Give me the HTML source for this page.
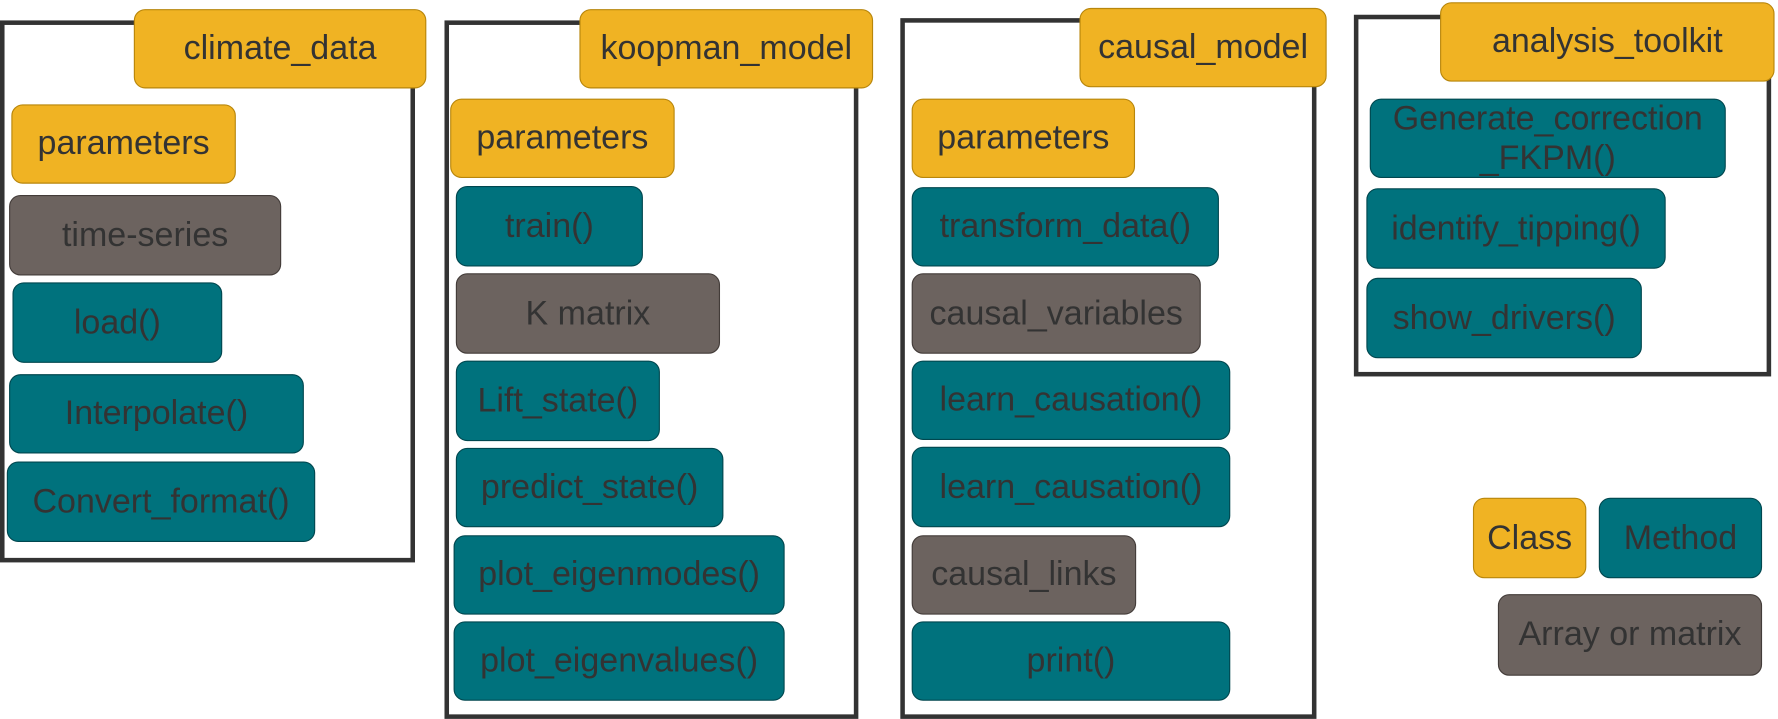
<!DOCTYPE html>
<html><head><meta charset="utf-8"><style>
body{margin:0;width:1778px;height:719px;background:#fff;position:relative;overflow:hidden;font-family:"Liberation Sans",sans-serif}
#w{position:absolute;left:0;top:0;width:1568px;height:634px;transform:scale(1.1339);transform-origin:0 0}
.f{position:absolute;border:4px solid #333;box-sizing:border-box}
.b{position:absolute;box-sizing:border-box;border-radius:10px;display:flex;align-items:center;justify-content:center;text-align:center;font-size:30px;color:#333;line-height:1.2;white-space:nowrap}
.y{background:#F0B323;border:1.5px solid #B8860B}
.t{background:#00727D;border:1.5px solid #00474F}
.g{background:#6C635F;border:1.5px solid #433c39}
</style></head><body><div id="w">
<div class="f" style="left:0;top:18px;width:366px;height:478px"></div>
<div class="f" style="left:392px;top:18px;width:365px;height:616px"></div>
<div class="f" style="left:794px;top:16px;width:367px;height:618px"></div>
<div class="f" style="left:1194px;top:13px;width:368px;height:319px"></div>

<div class="b y" style="left:118px;top:8px;width:258px;height:70px">climate_data</div>
<div class="b y" style="left:10px;top:92px;width:198px;height:70px">parameters</div>
<div class="b g" style="left:8px;top:172px;width:240px;height:71px">time-series</div>
<div class="b t" style="left:11px;top:249px;width:185px;height:71px">load()</div>
<div class="b t" style="left:8px;top:330px;width:260px;height:70px">Interpolate()</div>
<div class="b t" style="left:6px;top:407px;width:272px;height:71px">Convert_format()</div>

<div class="b y" style="left:511px;top:8px;width:259px;height:70px">koopman_model</div>
<div class="b y" style="left:397px;top:87px;width:198px;height:70px">parameters</div>
<div class="b t" style="left:402px;top:164px;width:165px;height:71px">train()</div>
<div class="b g" style="left:402px;top:241px;width:233px;height:71px">K matrix</div>
<div class="b t" style="left:402px;top:318px;width:180px;height:71px">Lift_state()</div>
<div class="b t" style="left:402px;top:395px;width:236px;height:70px">predict_state()</div>
<div class="b t" style="left:400px;top:472px;width:292px;height:70px">plot_eigenmodes()</div>
<div class="b t" style="left:400px;top:548px;width:292px;height:70px">plot_eigenvalues()</div>

<div class="b y" style="left:952px;top:7px;width:218px;height:70px">causal_model</div>
<div class="b y" style="left:804px;top:87px;width:197px;height:70px">parameters</div>
<div class="b t" style="left:804px;top:165px;width:271px;height:70px">transform_data()</div>
<div class="b g" style="left:804px;top:241px;width:255px;height:71px">causal_variables</div>
<div class="b t" style="left:804px;top:318px;width:281px;height:70px">learn_causation()</div>
<div class="b t" style="left:804px;top:394px;width:281px;height:71px">learn_causation()</div>
<div class="b g" style="left:804px;top:472px;width:198px;height:70px">causal_links</div>
<div class="b t" style="left:804px;top:548px;width:281px;height:70px">print()</div>

<div class="b y" style="left:1270px;top:2px;width:295px;height:70px">analysis_toolkit</div>
<div class="b t" style="left:1208px;top:87px;width:314px;height:70px;align-items:flex-start;padding-top:0;line-height:1.15">Generate_correction<br>_FKPM()</div>
<div class="b t" style="left:1205px;top:166px;width:264px;height:71px">identify_tipping()</div>
<div class="b t" style="left:1205px;top:245px;width:243px;height:71px">show_drivers()</div>

<div class="b y" style="left:1299px;top:439px;width:100px;height:71px">Class</div>
<div class="b t" style="left:1410px;top:439px;width:144px;height:71px">Method</div>
<div class="b g" style="left:1321px;top:524px;width:233px;height:72px">Array or matrix</div>
</div></body></html>
